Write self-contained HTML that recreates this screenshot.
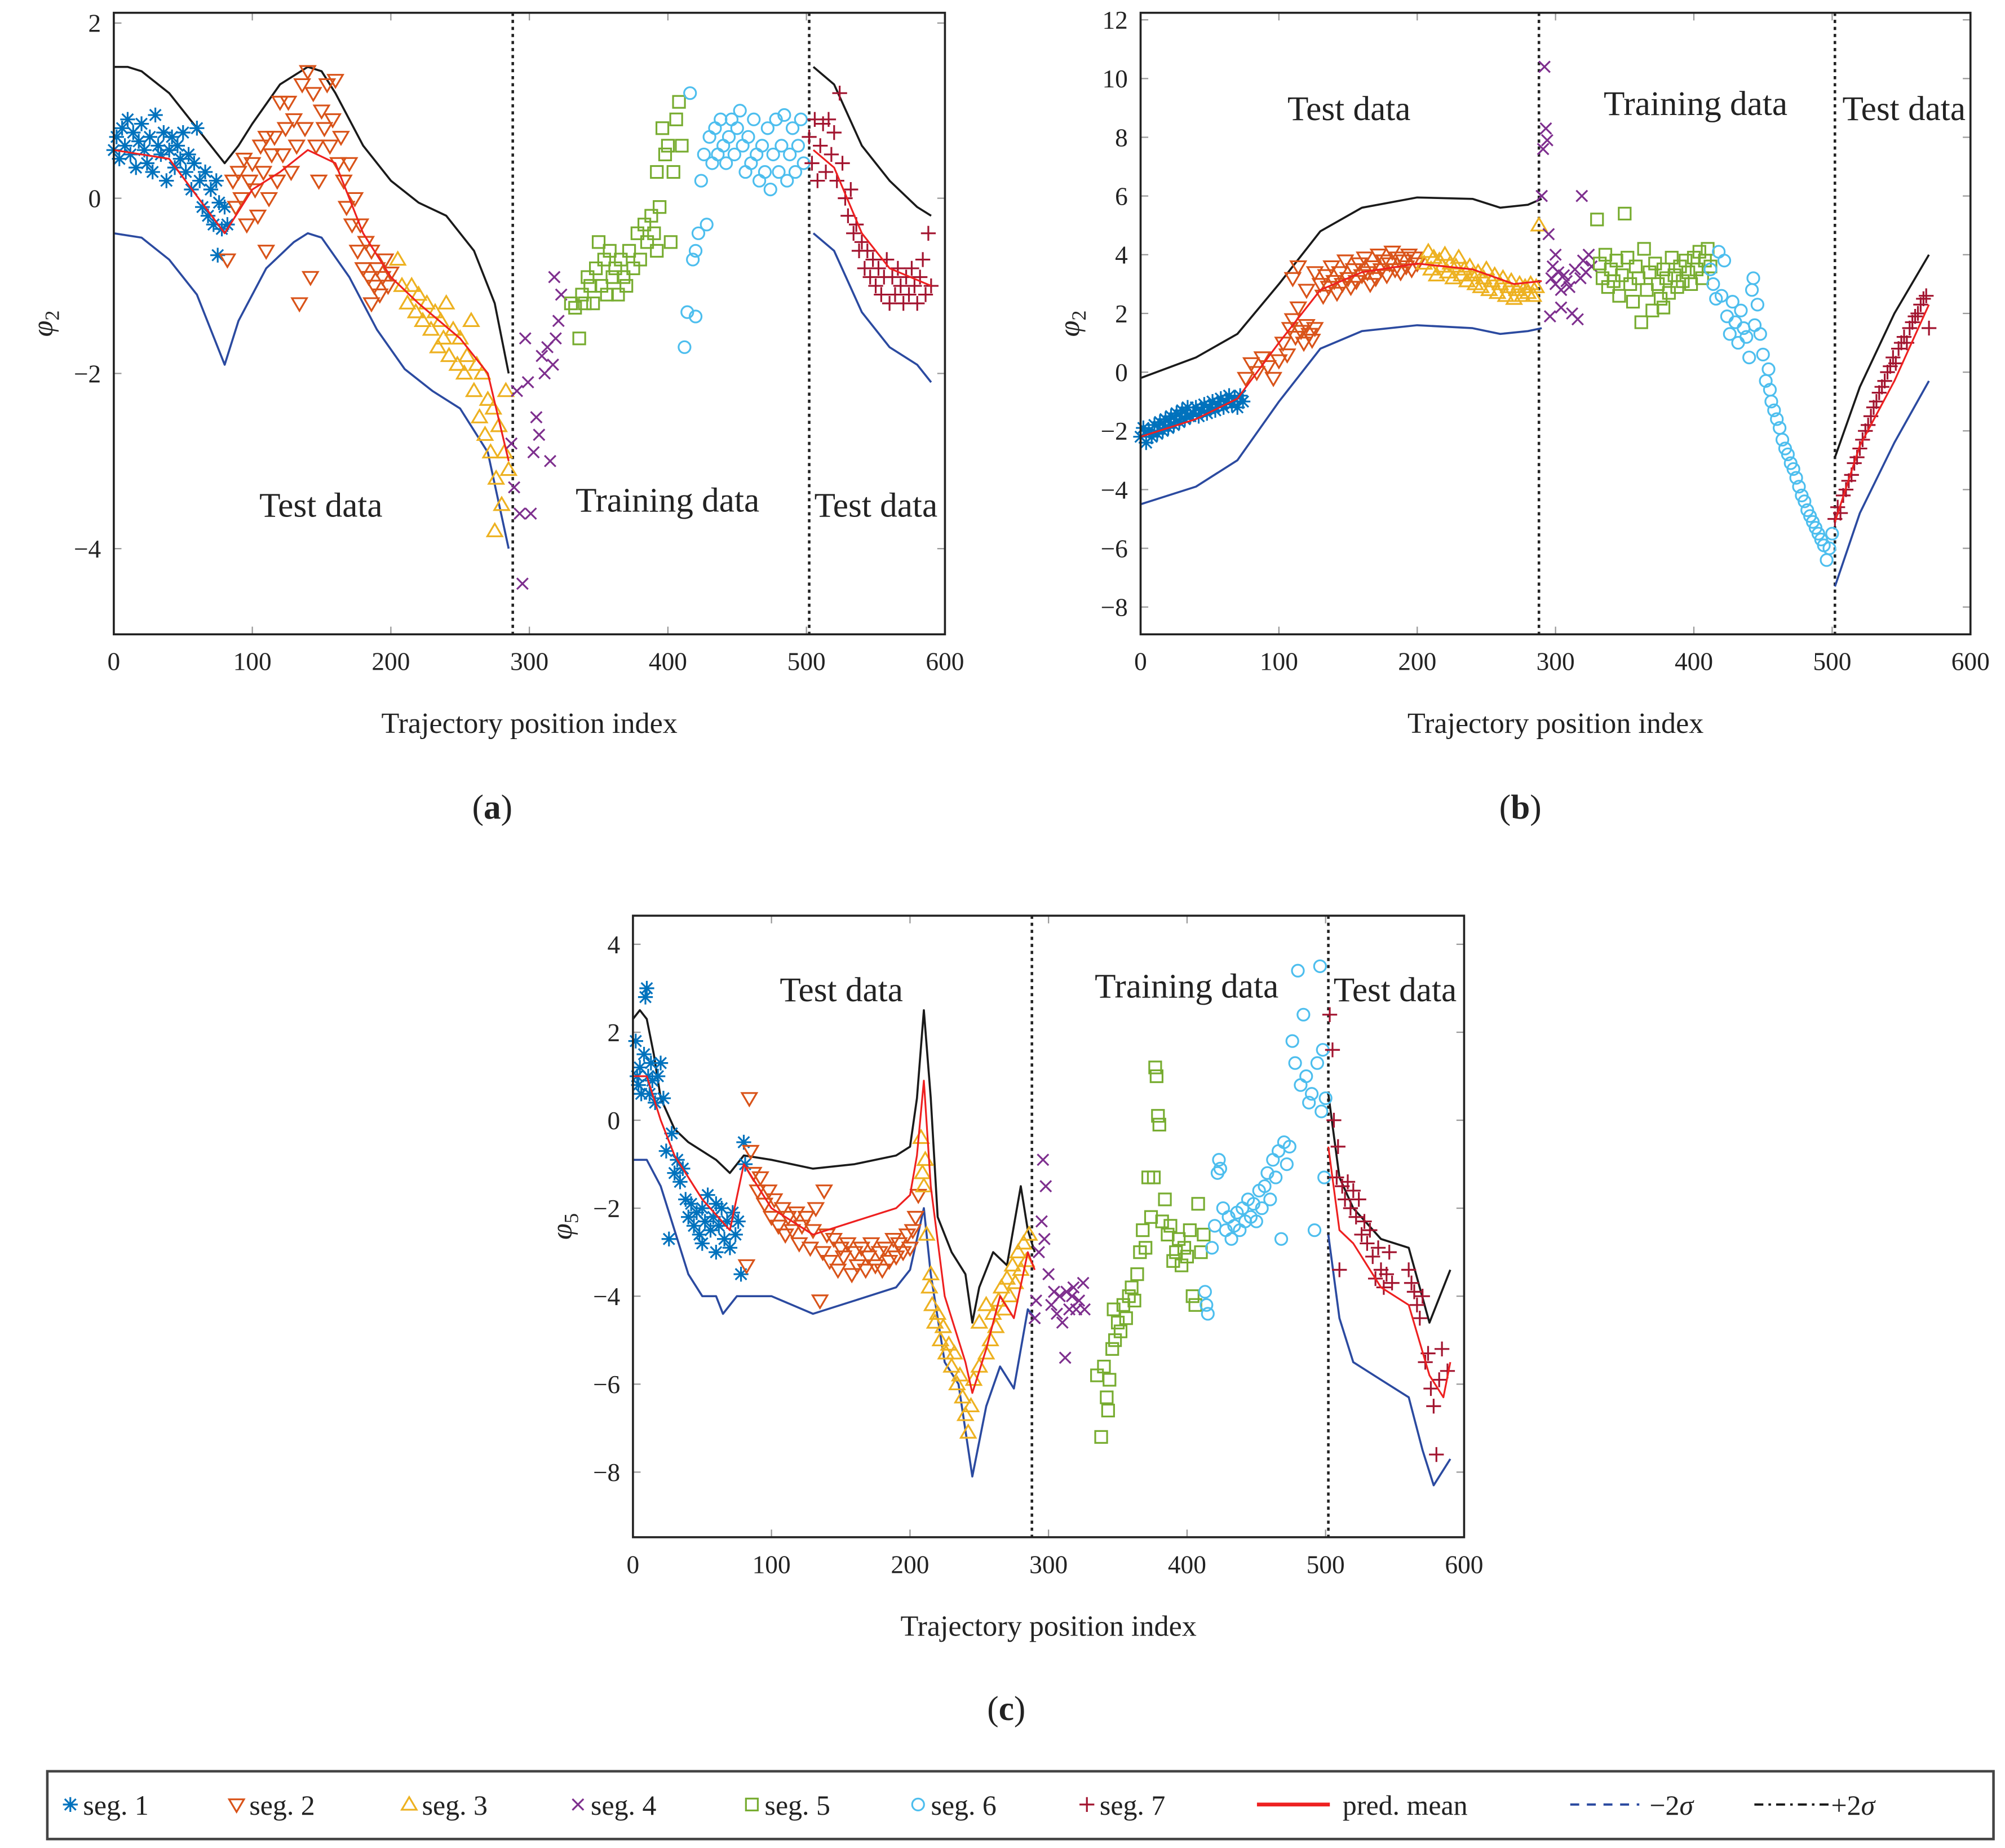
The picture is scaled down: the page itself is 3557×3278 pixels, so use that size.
<!DOCTYPE html>
<html><head><meta charset="utf-8"><title>GP prediction segments</title>
<style>
html,body{margin:0;padding:0;background:#fff;}
svg{display:block;font-family:"Liberation Serif",serif;}
</style></head>
<body>
<svg id="fig" xmlns="http://www.w3.org/2000/svg" width="3557" height="3278" viewBox="0 0 1568 1445" preserveAspectRatio="none">
<rect x="0" y="0" width="1568" height="1445" fill="#fff"/>
</svg>
<script>
// ---------- Panel (a) data ----------
const aSeg1=[[0,0.55],[2,0.7],[4,0.45],[6,0.8],[8,0.6],[10,0.9],[12,0.5],[14,0.75],[16,0.35],[18,0.65],[20,0.85],[22,0.55],[24,0.4],[26,0.7],[28,0.3],[30,0.95],[32,0.6],[34,0.5],[36,0.75],[38,0.2],[40,0.55],[42,0.7],[44,0.35],[46,0.6],[48,0.45],[50,0.75],[52,0.3],[54,0.5],[56,0.1],[58,0.4],[60,0.8],[62,0.2],[64,-0.1],[66,0.3],[68,-0.2],[70,0.1],[72,-0.3],[74,0.2],[76,-0.05],[78,-0.35],[80,-0.1],[75,-0.65],[82,-0.3]];
const aSeg2=[[82,-0.7],[86,0.2],[88,-0.1],[90,0.3],[92,0.0],[94,0.45],[96,-0.3],[98,0.2],[100,0.4],[102,0.1],[104,-0.2],[106,0.6],[108,0.3],[110,0.7],[112,0.0],[114,0.5],[116,0.7],[118,0.2],[120,1.1],[122,0.5],[124,0.8],[126,1.1],[128,0.3],[130,0.9],[132,0.6],[134,-1.2],[136,1.3],[138,0.8],[140,1.45],[142,-0.9],[144,1.2],[146,0.6],[148,0.2],[150,1.0],[152,0.8],[154,1.3],[156,0.6],[158,0.9],[160,1.35],[162,0.4],[164,0.7],[166,0.2],[168,-0.1],[170,0.4],[172,-0.3],[174,0.0],[176,-0.6],[178,-0.3],[180,-0.8],[182,-0.5],[184,-0.9],[186,-0.6],[188,-1.0],[190,-0.8],[192,-1.1],[194,-0.9],[196,-0.7],[198,-1.0],[200,-0.85],[110,-0.6],[186,-1.2]];
const aSeg3=[[205,-0.7],[208,-1.0],[212,-1.2],[215,-1.0],[218,-1.3],[220,-1.1],[223,-1.4],[226,-1.2],[229,-1.5],[232,-1.3],[234,-1.7],[236,-1.4],[238,-1.6],[240,-1.2],[242,-1.8],[245,-1.5],[248,-1.9],[250,-1.6],[253,-2.0],[255,-1.8],[258,-1.4],[260,-2.2],[262,-1.9],[264,-2.5],[266,-2.0],[268,-2.7],[270,-2.3],[272,-2.9],[274,-2.4],[276,-3.2],[278,-2.6],[280,-3.5],[282,-2.9],[275,-3.8],[285,-3.1],[283,-2.2]];
const aSeg4=[[287,-2.8],[289,-3.3],[291,-2.2],[293,-3.6],[295,-4.4],[297,-1.6],[299,-2.1],[301,-3.6],[303,-2.9],[305,-2.5],[307,-2.7],[309,-1.8],[311,-2.0],[313,-1.7],[315,-3.0],[317,-1.9],[319,-1.6],[321,-1.4],[318,-0.9],[323,-1.1]];
const aSeg5=[[330,-1.2],[333,-1.25],[336,-1.6],[338,-1.1],[340,-1.2],[342,-0.9],[344,-1.0],[346,-1.2],[348,-0.8],[350,-0.5],[352,-1.0],[354,-0.7],[356,-1.1],[358,-0.6],[360,-0.9],[362,-0.8],[364,-1.1],[366,-0.7],[368,-0.9],[370,-1.0],[372,-0.6],[375,-0.8],[378,-0.4],[380,-0.7],[383,-0.3],[385,-0.5],[388,-0.2],[390,-0.4],[392,0.3],[394,-0.1],[396,0.8],[398,0.5],[400,0.6],[402,-0.5],[404,0.3],[406,0.9],[408,1.1],[410,0.6],[392,-0.6]];
const aSeg6=[[412,-1.7],[414,-1.3],[416,1.2],[418,-0.7],[420,-0.6],[422,-0.4],[424,0.2],[426,0.5],[428,-0.3],[430,0.7],[432,0.4],[434,0.8],[436,0.5],[438,0.9],[440,0.6],[442,0.4],[444,0.7],[446,0.9],[448,0.5],[450,0.8],[452,1.0],[454,0.6],[456,0.3],[458,0.7],[460,0.4],[462,0.9],[464,0.5],[466,0.2],[468,0.6],[470,0.3],[472,0.8],[474,0.1],[476,0.5],[478,0.9],[480,0.3],[482,0.6],[484,0.95],[486,0.2],[488,0.5],[490,0.8],[492,0.3],[494,0.6],[496,0.9],[498,0.4],[420,-1.35]];
const aSeg7=[[502,0.7],[504,0.4],[506,0.9],[508,0.2],[510,0.6],[512,0.85],[514,0.3],[516,0.9],[518,0.5],[520,0.75],[522,0.2],[524,1.2],[526,0.4],[528,0.0],[530,-0.2],[532,0.1],[534,-0.4],[536,-0.3],[538,-0.6],[540,-0.5],[542,-0.8],[544,-0.6],[546,-0.9],[548,-0.7],[550,-1.0],[552,-0.8],[554,-1.1],[556,-0.9],[558,-0.7],[560,-1.2],[562,-0.9],[564,-1.1],[566,-0.8],[568,-1.0],[570,-1.2],[572,-0.9],[574,-1.1],[576,-0.8],[578,-1.0],[580,-1.2],[582,-0.9],[584,-0.7],[586,-1.1],[588,-0.4],[590,-1.0]];
const aUpper=[[0,1.5],[10,1.5],[20,1.45],[40,1.2],[60,0.8],[80,0.4],[90,0.6],[100,0.85],[120,1.3],[140,1.5],[150,1.45],[160,1.2],[180,0.6],[200,0.2],[220,-0.05],[240,-0.2],[260,-0.6],[275,-1.2],[285,-2.0],null,[505,1.5],[520,1.3],[540,0.6],[560,0.2],[580,-0.1],[590,-0.2]];
const aLower=[[0,-0.4],[20,-0.45],[40,-0.7],[60,-1.1],[80,-1.9],[90,-1.4],[110,-0.8],[130,-0.5],[140,-0.4],[150,-0.45],[170,-0.9],[190,-1.5],[210,-1.95],[230,-2.2],[250,-2.4],[270,-2.9],[285,-4.0],null,[505,-0.4],[520,-0.6],[540,-1.3],[560,-1.7],[580,-1.9],[590,-2.1]];
const aMean=[[0,0.55],[40,0.45],[80,-0.4],[100,0.1],[120,0.3],[140,0.55],[160,0.4],[180,-0.4],[200,-0.9],[220,-1.2],[250,-1.6],[270,-2.0],[285,-3.0],null,[505,0.55],[520,0.35],[540,-0.4],[560,-0.8],[590,-1.0]];
// ---------- Panel (b) data ----------
const bSeg1=[[0,-2.2],[2,-1.9],[4,-2.4],[6,-2.0],[8,-2.2],[10,-1.8],[12,-2.1],[14,-1.7],[16,-2.0],[18,-1.6],[20,-1.9],[22,-1.5],[24,-1.8],[26,-1.4],[28,-1.7],[30,-1.3],[32,-1.6],[34,-1.2],[36,-1.5],[38,-1.4],[40,-1.2],[42,-1.5],[44,-1.3],[46,-1.1],[48,-1.4],[50,-1.2],[52,-1.0],[54,-1.3],[56,-1.1],[58,-0.9],[60,-1.2],[62,-1.0],[64,-0.8],[66,-1.1],[68,-0.9],[70,-1.2],[72,-0.8],[74,-1.0]];
const bSeg2=[[76,-0.2],[80,0.3],[84,0.0],[88,0.5],[92,0.2],[96,-0.2],[100,0.4],[103,1.0],[106,0.6],[108,1.5],[110,1.8],[112,1.2],[114,2.2],[116,1.4],[118,1.0],[120,1.6],[122,1.3],[124,1.1],[126,1.5],[110,3.2],[114,3.6],[120,2.8],[126,3.4],[130,3.0],[132,2.6],[134,3.3],[136,2.9],[138,3.6],[140,3.1],[142,2.7],[144,3.4],[146,3.0],[148,3.8],[150,3.2],[152,2.9],[154,3.5],[156,3.1],[158,3.7],[160,3.3],[162,3.9],[164,3.4],[166,3.0],[168,3.6],[170,3.2],[172,4.0],[174,3.5],[176,3.8],[178,3.3],[180,3.7],[182,4.1],[184,3.5],[186,3.9],[188,3.4],[190,3.8],[192,3.6],[194,4.0],[196,3.5],[198,3.9],[200,3.7]];
const bSeg3=[[205,3.7],[208,4.1],[210,3.5],[212,3.9],[214,3.3],[216,3.8],[218,3.6],[220,4.0],[222,3.4],[224,3.7],[226,3.2],[228,3.6],[230,3.9],[232,3.3],[234,3.5],[236,3.1],[238,3.6],[240,3.3],[242,3.0],[244,3.4],[246,2.9],[248,3.2],[250,3.5],[252,2.8],[254,3.1],[256,3.3],[258,2.7],[260,3.0],[262,3.2],[264,2.6],[266,2.9],[268,3.1],[270,2.5],[272,2.8],[274,3.0],[276,2.6],[278,2.9],[280,2.7],[282,3.0],[284,2.6],[286,2.9],[288,5.0]];
const bSeg4=[[290,6.0],[291,7.6],[292,10.4],[293,8.3],[294,7.9],[295,4.7],[296,1.9],[297,3.2],[298,3.6],[300,3.0],[302,3.4],[304,2.8],[306,3.3],[308,3.1],[310,2.9],[312,2.0],[314,3.5],[316,1.8],[318,3.2],[319,6.0],[320,3.8],[322,3.4],[324,4.0],[326,3.6],[300,4.0],[304,2.2]];
const bSeg5=[[330,5.2],[332,3.7],[334,3.2],[336,4.0],[338,2.9],[340,3.5],[342,3.1],[344,3.8],[346,2.6],[348,3.3],[350,5.4],[352,3.9],[354,3.0],[356,2.4],[358,3.6],[360,3.2],[362,1.7],[364,4.2],[366,2.8],[368,3.4],[370,2.1],[372,3.7],[374,3.0],[376,2.5],[378,3.5],[380,3.2],[382,2.7],[384,3.9],[386,3.3],[388,2.9],[390,3.6],[392,3.1],[394,3.8],[396,3.4],[398,3.0],[400,3.9],[402,3.5],[404,4.1],[406,3.2],[408,3.8],[410,4.2],[412,3.6],[378,2.2]];
const bSeg6=[[412,3.5],[414,3.0],[416,2.5],[418,4.1],[420,2.6],[422,3.8],[424,1.9],[426,1.3],[428,2.4],[430,1.7],[432,1.0],[434,2.1],[436,1.5],[438,1.2],[440,0.5],[442,2.8],[444,1.6],[446,2.3],[448,1.3],[450,0.6],[452,-0.3],[454,0.1],[455,-0.6],[456,-1.0],[458,-1.3],[460,-1.6],[462,-1.9],[464,-2.3],[466,-2.6],[468,-2.8],[470,-3.1],[472,-3.3],[474,-3.6],[476,-3.9],[478,-4.2],[480,-4.4],[482,-4.7],[484,-4.9],[486,-5.1],[488,-5.3],[490,-5.5],[492,-5.7],[494,-5.9],[496,-6.4],[498,-6.0],[500,-5.5],[443,3.2]];
const bSeg7=[[502,-5.0],[504,-4.6],[506,-4.8],[508,-4.2],[510,-4.0],[512,-3.7],[514,-3.5],[516,-3.1],[518,-2.9],[520,-2.6],[522,-2.3],[524,-2.0],[526,-1.8],[528,-1.5],[530,-1.2],[532,-1.0],[534,-0.7],[536,-0.5],[538,-0.3],[540,0.0],[542,0.2],[544,0.5],[546,0.3],[548,0.8],[550,1.0],[552,1.2],[554,1.0],[556,1.5],[558,1.7],[560,1.9],[562,2.0],[564,2.3],[566,2.5],[568,2.6],[570,1.5]];
const bUpper=[[0,-0.2],[40,0.5],[70,1.3],[100,3.0],[130,4.8],[160,5.6],[200,5.95],[240,5.9],[260,5.6],[280,5.7],[290,5.9],null,[502,-2.9],[520,-0.5],[545,2.0],[570,4.0]];
const bLower=[[0,-4.5],[40,-3.9],[70,-3.0],[100,-1.0],[130,0.8],[160,1.4],[200,1.6],[240,1.5],[260,1.3],[280,1.4],[290,1.5],null,[502,-7.3],[520,-4.8],[545,-2.4],[570,-0.3]];
const bMean=[[0,-2.2],[40,-1.6],[70,-0.9],[100,1.0],[130,2.8],[160,3.4],[200,3.7],[240,3.5],[270,3.0],[290,3.1],null,[502,-5.1],[520,-2.5],[545,-0.3],[570,2.3]];
// ---------- Panel (c) data ----------
const cSeg1=[[2,1.8],[3,1.0],[4,0.8],[5,1.2],[6,0.6],[8,1.5],[9,2.8],[10,3.0],[11,1.0],[12,0.6],[13,1.3],[14,0.9],[16,0.4],[18,1.0],[20,1.3],[22,0.5],[24,-0.7],[26,-2.7],[28,-0.3],[30,-1.2],[32,-0.9],[34,-1.4],[36,-1.1],[38,-1.8],[40,-2.2],[42,-1.9],[44,-2.4],[46,-2.1],[48,-2.6],[50,-2.0],[52,-2.3],[54,-1.7],[56,-2.5],[58,-2.2],[60,-1.9],[62,-2.4],[64,-2.0],[66,-2.7],[68,-2.3],[70,-2.9],[72,-2.1],[74,-2.6],[76,-2.3],[78,-3.5],[80,-0.5],[81,-1.0],[50,-2.8],[60,-3.0]];
const cSeg2=[[82,-3.3],[84,0.5],[85,-0.7],[87,-1.2],[90,-1.6],[92,-1.3],[95,-1.9],[98,-1.6],[100,-2.2],[102,-1.8],[105,-2.4],[108,-2.0],[110,-2.6],[112,-2.2],[115,-2.5],[118,-2.1],[120,-2.8],[122,-2.4],[125,-2.2],[128,-2.9],[130,-2.5],[132,-2.0],[135,-4.1],[137,-3.0],[140,-2.6],[142,-3.2],[145,-2.7],[148,-3.4],[150,-2.9],[152,-3.1],[155,-2.8],[158,-3.5],[160,-3.0],[162,-3.3],[165,-2.9],[168,-3.4],[170,-3.1],[172,-2.8],[175,-3.3],[178,-3.0],[180,-3.4],[182,-2.9],[185,-3.2],[188,-2.7],[190,-3.1],[192,-2.8],[195,-3.0],[198,-2.6],[200,-2.9],[202,-2.5],[204,-2.2],[206,-1.7],[138,-1.6]];
const cSeg3=[[208,-0.4],[209,-1.2],[210,-1.5],[211,-0.9],[212,-2.6],[214,-3.8],[215,-3.5],[216,-4.2],[218,-4.6],[220,-4.4],[222,-5.0],[224,-4.7],[226,-5.3],[228,-5.1],[230,-5.6],[232,-5.3],[234,-6.0],[236,-5.8],[238,-6.3],[240,-6.7],[242,-7.1],[244,-6.5],[246,-5.9],[250,-5.6],[255,-5.3],[258,-5.0],[260,-4.4],[262,-4.7],[264,-4.1],[266,-3.8],[268,-4.3],[270,-3.6],[272,-4.0],[274,-3.3],[276,-3.7],[278,-3.0],[280,-3.4],[282,-2.8],[284,-3.2],[286,-2.6],[250,-4.6],[255,-4.2]];
const cSeg4=[[290,-4.5],[291,-4.1],[293,-3.0],[295,-2.3],[296,-0.9],[297,-2.7],[298,-1.5],[300,-3.5],[302,-4.2],[304,-3.9],[306,-4.4],[308,-4.0],[310,-4.6],[312,-5.4],[313,-3.9],[315,-4.3],[317,-4.0],[318,-3.8],[320,-4.3],[322,-4.1],[325,-3.7],[326,-4.3]];
const cSeg5=[[335,-5.8],[338,-7.2],[340,-5.6],[342,-6.3],[343,-6.6],[344,-5.9],[346,-5.2],[347,-4.3],[348,-5.0],[350,-4.6],[352,-4.8],[354,-4.2],[356,-4.5],[358,-4.0],[360,-3.8],[362,-4.1],[364,-3.5],[366,-3.0],[368,-2.5],[370,-2.9],[372,-1.3],[374,-2.2],[376,-1.3],[377,1.2],[378,1.0],[379,0.1],[380,-0.1],[382,-2.3],[384,-1.8],[386,-2.6],[388,-2.4],[390,-3.2],[392,-3.0],[394,-2.7],[396,-3.3],[398,-2.9],[400,-3.1],[402,-2.5],[404,-4.0],[406,-4.2],[408,-1.9],[410,-3.0],[412,-2.6]];
const cSeg6=[[413,-3.9],[414,-4.2],[415,-4.4],[418,-2.9],[420,-2.4],[422,-1.2],[423,-0.9],[424,-1.1],[426,-2.0],[428,-2.5],[430,-2.2],[432,-2.7],[434,-2.4],[436,-2.1],[438,-2.5],[440,-2.0],[442,-2.3],[444,-1.8],[446,-2.2],[448,-1.9],[450,-2.3],[452,-1.6],[454,-2.0],[456,-1.5],[458,-1.2],[460,-1.8],[462,-0.9],[464,-1.3],[466,-0.7],[468,-2.7],[470,-0.5],[472,-1.0],[474,-0.6],[476,1.8],[478,1.3],[480,3.4],[482,0.8],[484,2.4],[486,1.0],[488,0.4],[490,0.6],[492,-2.5],[494,1.3],[496,3.5],[498,1.6],[499,-1.3],[500,0.5],[497,0.2]];
const cSeg7=[[503,2.4],[505,1.6],[506,0.0],[508,-1.3],[509,-0.6],[510,-3.4],[512,-1.5],[514,-1.8],[516,-1.4],[518,-2.0],[520,-1.6],[522,-2.2],[524,-1.8],[526,-2.6],[528,-2.3],[530,-2.8],[532,-2.5],[534,-3.1],[536,-3.6],[538,-2.9],[540,-3.4],[542,-3.8],[544,-3.5],[546,-3.0],[548,-3.7],[560,-3.4],[562,-3.7],[564,-3.9],[566,-4.2],[568,-4.5],[570,-4.0],[572,-5.5],[574,-5.3],[576,-6.1],[578,-6.5],[580,-7.6],[582,-5.9],[584,-5.2],[588,-5.7]];
const cUpper=[[0,2.3],[5,2.5],[10,2.3],[15,1.5],[20,0.5],[30,-0.2],[40,-0.5],[60,-0.9],[70,-1.2],[80,-0.8],[100,-0.9],[130,-1.1],[160,-1.0],[190,-0.8],[200,-0.6],[205,0.5],[210,2.5],[215,0.5],[220,-2.2],[230,-3.0],[240,-3.5],[245,-4.6],[250,-3.8],[260,-3.0],[270,-3.3],[280,-1.5],[285,-2.5],[290,-3.0],null,[502,0.6],[510,-1.3],[520,-2.0],[540,-2.7],[560,-2.9],[575,-4.6],[590,-3.4]];
const cLower=[[0,-0.9],[10,-0.9],[20,-1.5],[30,-2.5],[40,-3.5],[50,-4.0],[60,-4.0],[65,-4.4],[75,-4.0],[100,-4.0],[130,-4.4],[160,-4.1],[190,-3.8],[200,-3.4],[210,-2.0],[215,-3.5],[225,-5.5],[235,-6.0],[245,-8.1],[255,-6.5],[265,-5.6],[275,-6.1],[285,-4.3],[290,-4.5],null,[502,-2.6],[510,-4.5],[520,-5.5],[540,-5.9],[560,-6.3],[570,-7.5],[578,-8.3],[590,-7.7]];
const cMean=[[0,1.0],[10,1.0],[20,0],[30,-0.8],[50,-1.8],[70,-2.5],[80,-1.0],[100,-2.0],[130,-2.6],[160,-2.3],[190,-2.0],[200,-1.7],[205,-0.8],[210,0.9],[215,-1.5],[225,-4.0],[240,-5.5],[245,-6.2],[255,-5.2],[265,-4.0],[275,-4.5],[285,-3.0],[290,-3.4],null,[502,-0.6],[510,-2.5],[520,-2.8],[540,-3.8],[560,-4.2],[575,-5.8],[585,-6.3],[590,-5.5]];
const xTicks=[0,100,200,300,400,500,600];
const aYTicks=[-4,-2,0,2];
const bYTicks=[-8,-6,-4,-2,0,2,4,6,8,10,12];
const cYTicks=[-8,-6,-4,-2,0,2,4];
const splitIdx=[288,502];
const segNames=["seg. 1","seg. 2","seg. 3","seg. 4","seg. 5","seg. 6","seg. 7"];

const NS="http://www.w3.org/2000/svg";
const svg=document.getElementById('fig');
const COL=['#0072bd','#d95319','#edb120','#7e2f8e','#77ac30','#4dbeee','#a2142f'];
const SHAPES=['star','tdown','tup','x','sq','circ','plus'];
function mk(tag,parent,attrs){const e=document.createElementNS(NS,tag);for(const k in attrs)e.setAttribute(k,attrs[k]);parent.appendChild(e);return e;}
function marker(g,shape,cx,cy,col,r){
  let e;
  const sw=1.4;
  if(shape==='star'){e=mk('path',g,{d:`M${cx-r},${cy}H${cx+r}M${cx},${cy-r}V${cy+r}M${cx-r*.75},${cy-r*.75}L${cx+r*.75},${cy+r*.75}M${cx-r*.75},${cy+r*.75}L${cx+r*.75},${cy-r*.75}`,stroke:col,'stroke-width':sw,fill:'none'});}
  else if(shape==='tdown'){e=mk('path',g,{d:`M${cx-r},${cy-r*.7}L${cx+r},${cy-r*.7}L${cx},${cy+r}Z`,stroke:col,'stroke-width':sw,fill:'none'});}
  else if(shape==='tup'){e=mk('path',g,{d:`M${cx-r},${cy+r*.7}L${cx+r},${cy+r*.7}L${cx},${cy-r}Z`,stroke:col,'stroke-width':sw,fill:'none'});}
  else if(shape==='x'){const q=r*.75;e=mk('path',g,{d:`M${cx-q},${cy-q}L${cx+q},${cy+q}M${cx-q},${cy+q}L${cx+q},${cy-q}`,stroke:col,'stroke-width':sw,fill:'none'});}
  else if(shape==='sq'){const q=r*.8;e=mk('rect',g,{x:cx-q,y:cy-q,width:2*q,height:2*q,stroke:col,'stroke-width':sw,fill:'none'});}
  else if(shape==='circ'){e=mk('circle',g,{cx:cx,cy:cy,r:r*.8,stroke:col,'stroke-width':sw,fill:'none'});}
  else {e=mk('path',g,{d:`M${cx-r},${cy}H${cx+r}M${cx},${cy-r}V${cy+r}`,stroke:col,'stroke-width':sw,fill:'none'});}
  return e;
}
function txt(parent,x,y,s,size,anchor,extra){const t=mk('text',parent,Object.assign({x:x,y:y,'font-size':size,'text-anchor':anchor||'middle',fill:'#222'},extra||{}));t.textContent=s;return t;}

function panel(id,geo,segs,upper,lower,mean,yTicks,sub,annos,caption){
  const g=mk('g',svg,{});
  
  
  const X=v=>geo.L+(v-0)/(600-0)*(geo.R-geo.L);
  const Y=v=>geo.B-(v-geo.ymin)/(geo.ymax-geo.ymin)*(geo.B-geo.T);
  // ticks
  const tg=mk('g',g,{});
  
  
  xTicks.forEach(v=>{
    mk('line',tg,{x1:X(v),x2:X(v),y1:geo.B,y2:geo.B-6,stroke:'#999','stroke-width':1});
    mk('line',tg,{x1:X(v),x2:X(v),y1:geo.T,y2:geo.T+6,stroke:'#999','stroke-width':1});
    const t=txt(tg,X(v),geo.B+28,String(v),20);
    
    
  });
  yTicks.forEach(v=>{
    mk('line',tg,{x1:geo.L,x2:geo.L+6,y1:Y(v),y2:Y(v),stroke:'#999','stroke-width':1});
    mk('line',tg,{x1:geo.R,x2:geo.R-6,y1:Y(v),y2:Y(v),stroke:'#999','stroke-width':1});
    const t=txt(tg,geo.L-10,Y(v)+7,(v<0?'\u2212'+(-v):String(v)),20,'end');
    
    
  });
  // split lines
  splitIdx.forEach(v=>{
    const l=mk('line',g,{x1:X(v),x2:X(v),y1:geo.T,y2:geo.B,stroke:'#222','stroke-width':2,'stroke-dasharray':'2.5,3'});
    
    
  });
  // lines
  function line(arr,col,w,name){
    let d='',start=true;
    arr.forEach(p=>{if(p===null){start=true;return;}d+=(start?'M':'L')+X(p[0]).toFixed(1)+','+Y(p[1]).toFixed(1);start=false;});
    const e=mk('path',g,{d:d,stroke:col,'stroke-width':w,fill:'none','stroke-linejoin':'round'});
    
    
  }
  line(upper,'#1a1a1a',1.6,'upper-2sigma-line');
  line(lower,'#2b4aa0',1.6,'lower-2sigma-line');
  // scatter
  segs.forEach((s,i)=>{
    const sg=mk('g',g,{});
    
    
    s.forEach(p=>{
      const m=marker(sg,SHAPES[i],X(p[0]),Y(p[1]),COL[i],5.8);
      
      
    });
  });
  line(mean,'#ee2020',1.4,'pred-mean-line');
  // frame
  const f=mk('rect',g,{x:geo.L,y:geo.T,width:geo.R-geo.L,height:geo.B-geo.T,fill:'none',stroke:'#222','stroke-width':1.6});
  
  
  // titles
  const xt=txt(g,(geo.L+geo.R)/2,geo.B+77,'Trajectory position index',23);
  
  
  const yt=mk('text',g,{x:0,y:0,'font-size':23,'text-anchor':'middle',fill:'#222','font-style':'italic',transform:`translate(${geo.L-48},${(geo.T+geo.B)/2}) rotate(-90)`});
  
  
  const t1=mk('tspan',yt,{});t1.textContent='\u03C6';
  const t2=mk('tspan',yt,{'font-size':16,dy:5,'font-style':'normal'});t2.textContent=sub;
  annos.forEach(a=>{const t=txt(g,a[0],a[1],a[2],27);
    
    });
  const c=mk('text',g,{x:caption[0],y:caption[1],'font-size':27,'text-anchor':'middle',fill:'#222'});
  
  
  const c1=mk('tspan',c,{});c1.textContent='(';
  const c2=mk('tspan',c,{'font-weight':'bold'});c2.textContent=id;
  const c3=mk('tspan',c,{});c3.textContent=')';
}
panel('a',{L:89,R:739,T:10,B:496,ymin:-4.978,ymax:2.117},[aSeg1,aSeg2,aSeg3,aSeg4,aSeg5,aSeg6,aSeg7],aUpper,aLower,aMean,aYTicks,'2',
  [[251,404,'Test data'],[522,400,'Training data'],[685,404,'Test data']],[385,640]);
panel('b',{L:892,R:1541,T:10,B:496,ymin:-8.93,ymax:12.24},[bSeg1,bSeg2,bSeg3,bSeg4,bSeg5,bSeg6,bSeg7],bUpper,bLower,bMean,bYTicks,'2',
  [[1055,94,'Test data'],[1326,90,'Training data'],[1489,94,'Test data']],[1189,640]);
panel('c',{L:495,R:1145,T:716,B:1202,ymin:-9.48,ymax:4.65},[cSeg1,cSeg2,cSeg3,cSeg4,cSeg5,cSeg6,cSeg7],cUpper,cLower,cMean,cYTicks,'5',
  [[658,783,'Test data'],[928,780,'Training data'],[1091,783,'Test data']],[787,1345]);

// legend
const lg=mk('g',svg,{});


mk('rect',lg,{x:37,y:1385,width:1522,height:53,fill:'#fff',stroke:'#444','stroke-width':2});
const segX=[55,185,320,452,588,718,850];
segNames.forEach((n,i)=>{
  const eg=mk('g',lg,{});
  
  
  marker(eg,SHAPES[i],segX[i],1411,COL[i],5.8);
  txt(eg,segX[i]+10,1419,n,22,'start');
});
const e1=mk('g',lg,{});


mk('line',e1,{x1:983,x2:1040,y1:1411,y2:1411,stroke:'#ee2020','stroke-width':3});
txt(e1,1050,1419,'pred. mean',22,'start');
const e2=mk('g',lg,{});


mk('line',e2,{x1:1228,x2:1282,y1:1411,y2:1411,stroke:'#2b4aa0','stroke-width':1.8,'stroke-dasharray':'7,6'});
const s2=txt(e2,1290,1419,'\u22122',22,'start');
const sg1=mk('tspan',s2,{'font-style':'italic'});sg1.textContent='\u03C3';
const e3=mk('g',lg,{});


mk('line',e3,{x1:1372,x2:1430,y1:1411,y2:1411,stroke:'#1a1a1a','stroke-width':1.8,'stroke-dasharray':'7,4,2,4'});
const s3=txt(e3,1432,1419,'+2',22,'start');
const sg2=mk('tspan',s3,{'font-style':'italic'});sg2.textContent='\u03C3';
</script>
</body></html>
